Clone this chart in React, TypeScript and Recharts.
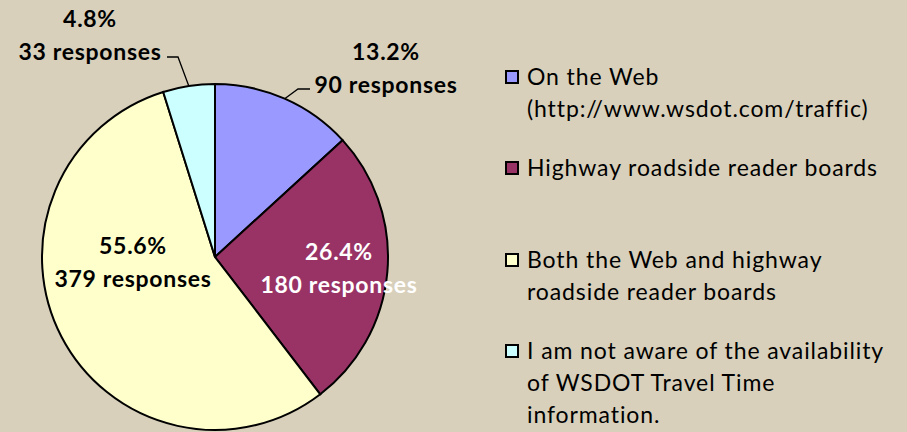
import { Cell, Legend, Pie, PieChart } from "recharts";

const categories = [
  "On the Web\n(http://www.wsdot.com/traffic)",
  "Highway roadside reader boards",
  "Both the Web and highway\nroadside reader boards",
  "I am not aware of the availability\nof WSDOT Travel Time\ninformation.",
];
const responses = [90, 180, 379, 33];
const colors = ["#9999ff", "#993366", "#ffffcc", "#ccffff"];
const labelColors = ["#000", "#fff", "#000", "#000"];

// label block centres relative to the pie centre (Excel "best fit" placement)
const labelOffsets = [
  { dx: 171, dy: -190 },
  { dx: 124, dy: 10 },
  { dx: -82, dy: 4 },
  { dx: -125, dy: -223 },
];
// leader lines for the outside labels: elbow and end, relative to the centre
const leaders: Array<null | { elbow: [number, number]; end: [number, number] }> = [
  { elbow: [83, -168], end: [95, -168] },
  null,
  null,
  { elbow: [-37, -200], end: [-48, -200] },
];

const data = categories.map((name, i) => ({ name, value: responses[i] }));

const BG = "#d8d0bb";
const FONT = "Lato, 'Open Sans', sans-serif";
const RAD = Math.PI / 180;

function renderLabel(props: any) {
  const { cx, cy, midAngle, outerRadius, index, value, percent } = props;
  const off = labelOffsets[index];
  const x = cx + off.dx;
  const y = cy + off.dy;
  const leader = leaders[index];
  let path = null;
  if (leader) {
    const sx = cx + outerRadius * Math.cos(-midAngle * RAD);
    const sy = cy + outerRadius * Math.sin(-midAngle * RAD);
    path = (
      <polyline
        points={`${sx},${sy} ${cx + leader.elbow[0]},${cy + leader.elbow[1]} ${cx + leader.end[0]},${cy + leader.end[1]}`}
        fill="none"
        stroke="#000"
        strokeWidth={1.3}
      />
    );
  }
  return (
    <g key={`lbl-${index}`}>
      {path}
      <text
        x={x}
        textAnchor="middle"
        fill={labelColors[index]}
        fontFamily={FONT}
        fontWeight={700}
        fontSize={23}
        letterSpacing={0.7}
      >
        <tspan x={x} y={y - 16.5} dominantBaseline="central">
          {(percent * 100).toFixed(1)}%
        </tspan>
        <tspan x={x} y={y + 16.5} dominantBaseline="central">
          {value} responses
        </tspan>
      </text>
    </g>
  );
}

function renderLegend() {
  return (
    <div style={{ fontFamily: FONT, fontSize: 23, letterSpacing: 0.9, color: "#000" }}>
      {categories.map((name, i) => (
        <div key={name} style={{ display: "flex", height: 91.3 }}>
          <div
            style={{
              width: 14,
              height: 14,
              boxSizing: "border-box",
              border: "2px solid #000",
              background: colors[i],
              marginTop: 10,
              marginRight: 8,
              flex: "none",
            }}
          />
          <div style={{ whiteSpace: "pre-line", lineHeight: "32px" }}>{name}</div>
        </div>
      ))}
    </div>
  );
}

export default function App() {
  return (
    <div
      style={{
        position: "fixed",
        left: 0,
        top: 0,
        width: 907,
        height: 432,
        background: BG,
        overflow: "hidden",
      }}
    >
      <PieChart width={907} height={432} margin={{ top: 0, right: 0, bottom: 0, left: 0 }}>
        <Pie
          data={data}
          dataKey="value"
          nameKey="name"
          cx={215}
          cy={257}
          outerRadius={173}
          startAngle={90}
          endAngle={-270}
          stroke="#000"
          strokeWidth={2}
          label={renderLabel}
          labelLine={false}
          isAnimationActive={false}
        >
          {data.map((d, i) => (
            <Cell key={d.name} fill={colors[i]} />
          ))}
        </Pie>
        <Legend
          layout="vertical"
          verticalAlign="top"
          align="right"
          content={renderLegend}
          wrapperStyle={{ left: 505, top: 60, width: 400 }}
        />
      </PieChart>
    </div>
  );
}
